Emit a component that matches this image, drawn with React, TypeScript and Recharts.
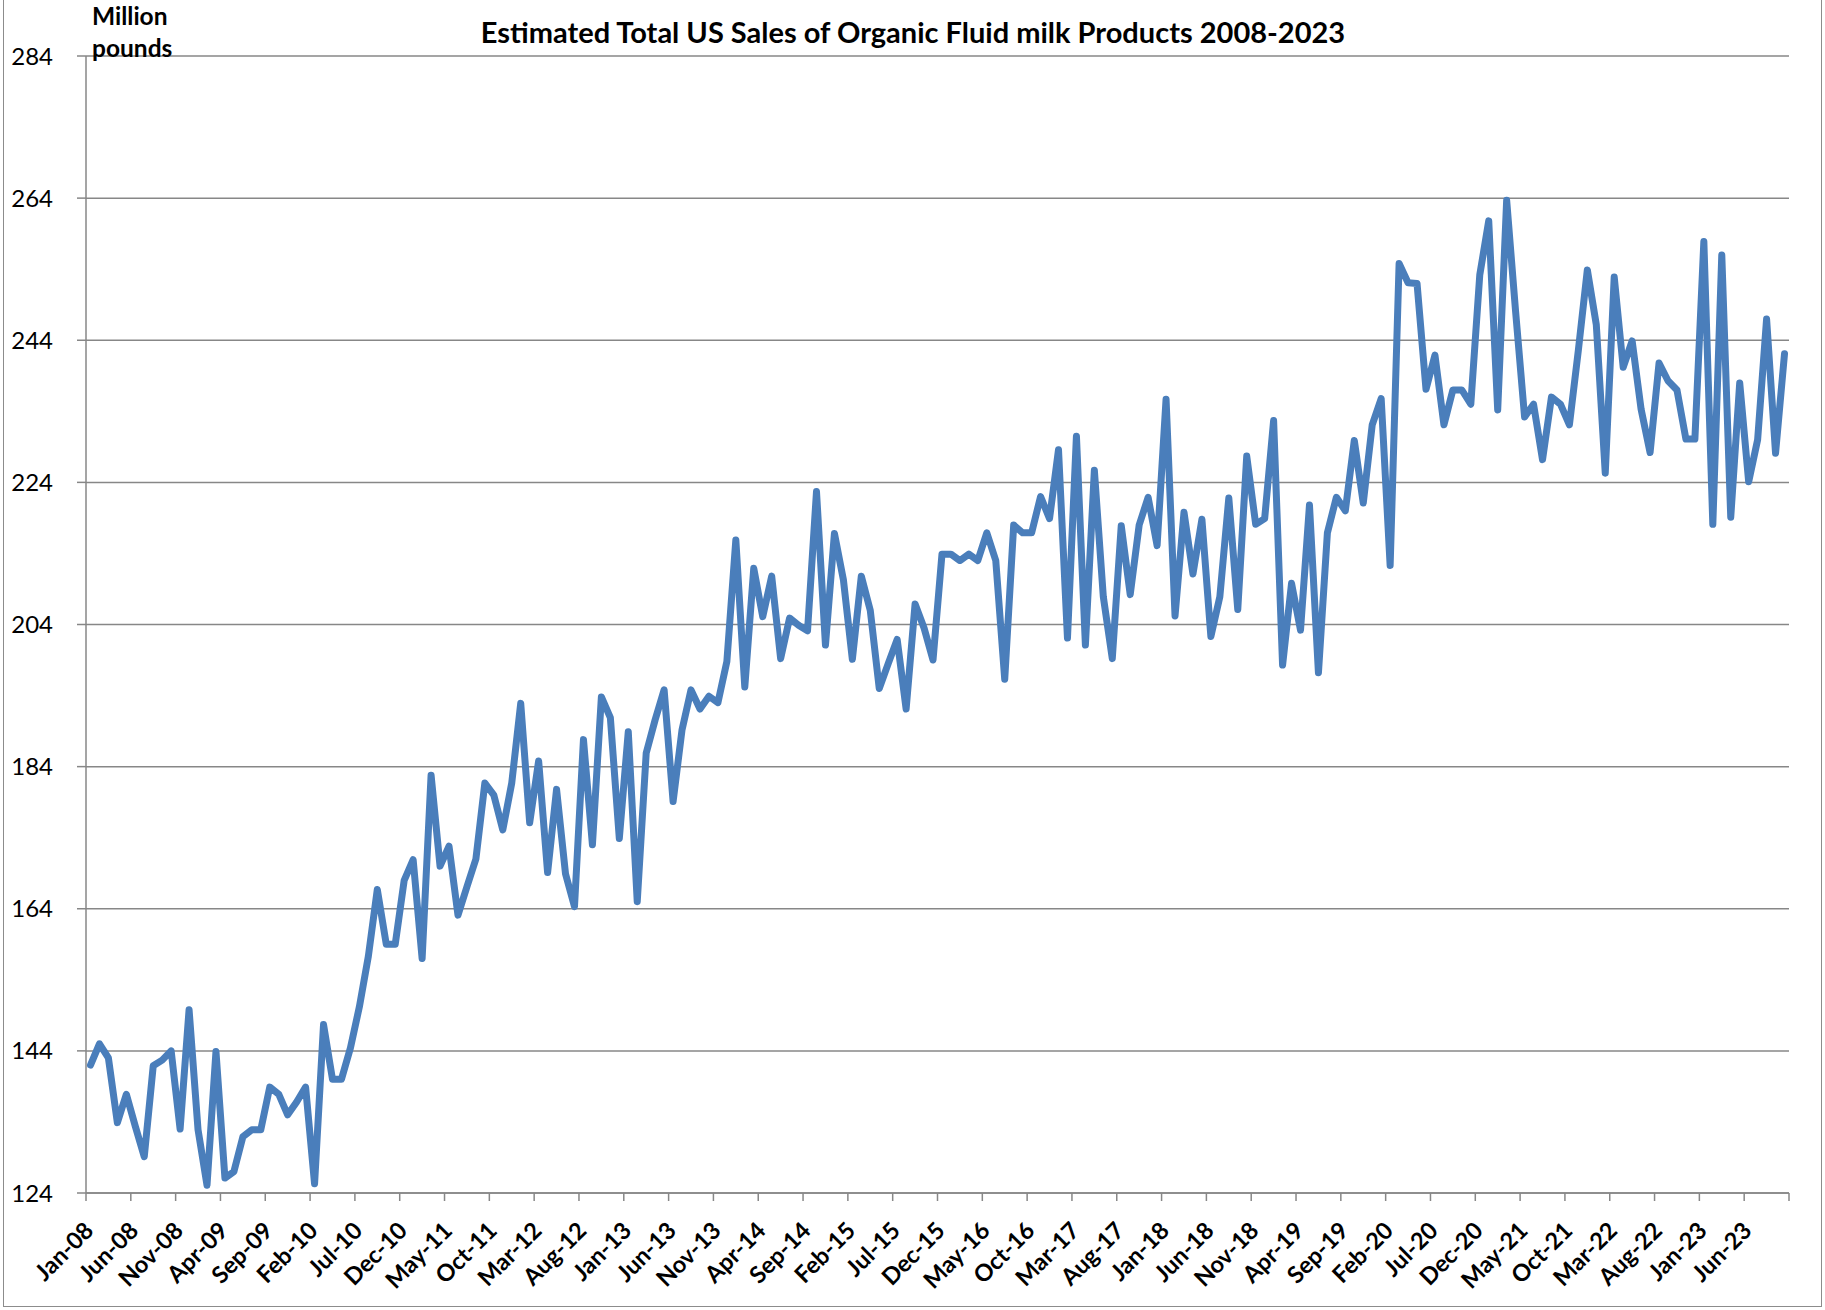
import { LineChart, Line, XAxis, YAxis, CartesianGrid } from 'recharts';

// Monthly sales, million pounds, Jan-08 .. Oct-23
const salesValues = [
  142.0, 145.0, 143.0, 133.9, 137.9, 133.4, 129.1, 141.9, 142.7, 144.0, 133.0, 149.8,
  132.9, 125.1, 143.9, 126.1, 127.0, 131.9, 132.9, 132.9, 138.9, 137.9, 135.0, 136.8,
  138.9, 125.3, 147.7, 140.0, 140.0, 144.4, 150.2, 157.3, 166.7, 159.0, 159.0, 168.0,
  170.9, 157.0, 182.8, 170.0, 172.8, 163.1, 167.1, 171.0, 181.7, 180.0, 175.1, 181.7,
  192.9, 176.1, 184.8, 169.1, 180.8, 168.9, 164.3, 187.8, 173.0, 193.8, 190.9, 173.9,
  188.9, 165.0, 185.9, 190.6, 194.8, 179.1, 189.2, 194.8, 192.1, 193.9, 193.0, 198.8,
  215.9, 195.2, 211.9, 205.1, 210.8, 199.2, 204.9, 203.9, 203.1, 222.7, 201.1, 216.8,
  210.3, 199.1, 210.8, 206.0, 195.0, 198.5, 201.9, 192.1, 206.9, 203.5, 199.0, 213.9,
  213.9, 213.0, 213.9, 213.0, 216.9, 213.0, 196.3, 218.0, 216.9, 216.9, 222.0, 218.9,
  228.6, 202.1, 230.5, 201.1, 225.7, 207.9, 199.2, 217.9, 208.2, 218.0, 221.9, 215.1,
  235.7, 205.2, 219.8, 211.1, 218.8, 202.3, 207.9, 221.8, 206.1, 227.7, 218.1, 218.9,
  232.7, 198.3, 209.8, 203.2, 220.8, 197.2, 216.9, 221.9, 220.0, 229.9, 221.1, 232.1,
  235.8, 212.3, 254.8, 252.1, 252.0, 237.1, 241.9, 232.1, 237.0, 237.0, 235.0, 253.2,
  260.8, 234.2, 263.7, 248.0, 233.2, 235.0, 227.2, 236.0, 235.0, 232.1, 242.6, 253.9,
  246.2, 225.3, 252.9, 240.2, 243.9, 234.3, 228.2, 240.8, 238.3, 237.0, 230.1, 230.1,
  257.9, 218.1, 256.0, 219.1, 238.0, 224.1, 230.0, 247.0, 228.1, 242.1,
];

const monthNames = ['Jan', 'Feb', 'Mar', 'Apr', 'May', 'Jun', 'Jul', 'Aug', 'Sep', 'Oct', 'Nov', 'Dec'];

const xTickLabels = [
  'Jan-08', 'Jun-08', 'Nov-08', 'Apr-09', 'Sep-09', 'Feb-10', 'Jul-10', 'Dec-10',
  'May-11', 'Oct-11', 'Mar-12', 'Aug-12', 'Jan-13', 'Jun-13', 'Nov-13', 'Apr-14',
  'Sep-14', 'Feb-15', 'Jul-15', 'Dec-15', 'May-16', 'Oct-16', 'Mar-17', 'Aug-17',
  'Jan-18', 'Jun-18', 'Nov-18', 'Apr-19', 'Sep-19', 'Feb-20', 'Jul-20', 'Dec-20',
  'May-21', 'Oct-21', 'Mar-22', 'Aug-22', 'Jan-23', 'Jun-23',
];

const yTicks = [124, 144, 164, 184, 204, 224, 244, 264, 284];

// each month sits in the middle of its slot, ticks fall between slots
const data = salesValues.map((value, i) => ({
  x: i + 0.5,
  month: `${monthNames[i % 12]}-${String(8 + Math.floor(i / 12)).padStart(2, '0')}`,
  value,
}));

const xTicks = Array.from({ length: salesValues.length / 5 + 1 }, (_, k) => k * 5);

const FONT = 'Lato, "Open Sans", sans-serif';

const XTick = ({ x, y, payload }: any) => {
  const label = xTickLabels[payload.value / 5];
  if (!label) return null;
  return (
    <text
      transform={`translate(${x + 9},${y + 31}) rotate(-45)`}
      textAnchor="end"
      fontFamily={FONT}
      fontWeight={700}
      fontSize={23.5}
      fill="#000"
    >
      {label}
    </text>
  );
};

export default function App() {
  return (
    <div style={{ position: 'relative', width: 1825, height: 1310, background: '#fff' }}>
      <style>{`body { margin: 0; }`}</style>
      <div
        style={{
          position: 'absolute',
          left: 3,
          top: -2,
          width: 1819,
          height: 1309,
          border: '1.5px solid #8c8c8c',
          boxSizing: 'border-box',
        }}
      />
      <LineChart
        width={1825}
        height={1310}
        data={data}
        margin={{ top: 56, right: 36, bottom: 0, left: 0 }}
        style={{ position: 'absolute', left: 0, top: 0 }}
      >
        <CartesianGrid vertical={false} stroke="#878787" strokeWidth={1.5} />
        <XAxis
          dataKey="x"
          type="number"
          domain={[0, salesValues.length]}
          ticks={xTicks}
          interval={0}
          height={117}
          stroke="#878787"
          strokeWidth={1.5}
          tickSize={8}
          tickMargin={0}
          tick={<XTick />}
          allowDataOverflow
        />
        <YAxis
          type="number"
          domain={[124, 284]}
          ticks={yTicks}
          interval={0}
          width={86}
          stroke="#878787"
          strokeWidth={1.5}
          tickSize={9}
          tickMargin={24}
          tick={{ fill: '#000', fontSize: 24, fontFamily: FONT }}
          allowDataOverflow
        />
        <Line
          type="linear"
          dataKey="value"
          stroke="#4a7ebb"
          strokeWidth={7}
          strokeLinejoin="round"
          strokeLinecap="round"
          dot={false}
          isAnimationActive={false}
        />
        <text x={913} y={43} textAnchor="middle" fontFamily={FONT} fontWeight={700} fontSize={29} fill="#000">
          Estimated Total US Sales of Organic Fluid milk Products 2008-2023
        </text>
        <text x={92} y={25} fontFamily={FONT} fontWeight={700} fontSize={24.5} fill="#000">
          Million
        </text>
        <text x={92} y={57} fontFamily={FONT} fontWeight={700} fontSize={24.5} fill="#000">
          pounds
        </text>
      </LineChart>
    </div>
  );
}
